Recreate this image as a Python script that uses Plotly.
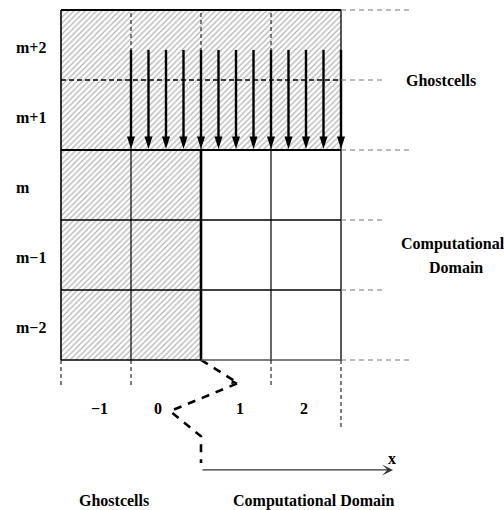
import plotly.graph_objects as go

# ---- data (cell units: one cell = 1) ----
col_labels = ["\u22121", "0", "1", "2"]
col_index = [-1, 0, 1, 2]
row_labels = ["m+2", "m+1", "m", "m\u22121", "m\u22122"]
row_index = [2, 1, 0, -1, -2]
ghost_cols = [-1, 0]          # columns that are ghost cells
ghost_rows = [2, 1]           # rows that are ghost cells
arrow_x = [-0.5, -0.25, 0.0, 0.25, 0.5, 0.75, 1.0, 1.25, 1.5, 1.75, 2.0, 2.25, 2.5]
zigzag_x = [0.5, 1.03, 0.06, 0.5, 0.5]
zigzag_y = [-2.5, -2.83, -3.23, -3.59, -3.97]

FONT = "'Liberation Serif', 'Times New Roman', serif"

xl = min(col_index) - 0.5
xr = max(col_index) + 0.5
yb = min(row_index) - 0.5
yt = max(row_index) + 0.5
xbnd = max(ghost_cols) + 0.5
ybnd = min(ghost_rows) - 0.5

fig = go.Figure()

# hatched ghost-cell region
fig.add_trace(go.Scatter(
    x=[xl, xr, xr, xbnd, xbnd, xl, xl],
    y=[yt, yt, ybnd, ybnd, yb, yb, yt],
    mode="lines", fill="toself", line=dict(width=0),
    fillcolor="white",
    fillpattern=dict(shape="/", size=4, solidity=0.3, fgcolor="#666666", bgcolor="white"),
    hoverinfo="skip", showlegend=False))

shapes = []
def seg(x0, y0, x1, y1, w=1.3, color="black", dash="solid"):
    shapes.append(dict(type="line", xref="x", yref="y", x0=x0, y0=y0, x1=x1, y1=y1,
                       line=dict(width=w, color=color, dash=dash), layer="above"))

# solid grid lines
seg(xl, yb, xl, yt, 1.6)
seg(xr, yb, xr, yt, 1.3)
for c in col_index[:-1]:
    xe = c + 0.5
    if xe != xbnd:
        seg(xe, yb, xe, ybnd, 1.2)
    seg(xe, ybnd, xe, yt, 1.0, dash="4px,3px")
seg(xbnd, yb, xbnd, ybnd, 2.6)
seg(xl, yt, xr, yt, 2.0)
seg(xl, ybnd, xr, ybnd, 1.8)
for r in row_index:
    ye = r - 0.5
    if ye in (ybnd, yb):
        continue
    if r - 0.5 > ybnd:
        seg(xl, ye, xr, ye, 1.5, dash="5px,3px")
    else:
        seg(xl, ye, xr, ye, 1.3)
seg(xl, yb, xbnd, yb, 1.5)
seg(xbnd, yb, xr, yb, 1.5, color="#555")

# grey dashed extensions on the right
for ye in [yt, ybnd, yb]:
    seg(xr, ye, xr + 1.014, ye, 1.2, color="#777", dash="5px,4px")
for ye in [1.5, -0.5, -1.5]:
    seg(xr, ye, xr + 0.586, ye, 1.2, color="#777", dash="5px,4px")

# dashed ticks below
for xe in [xl, -0.5, 1.5]:
    seg(xe, yb, xe, yb - 0.4, 1.0, dash="4px,3px")
seg(xr, yb, xr, yb - 1.0, 1.0, dash="4px,3px")

# downward arrows (shafts)
sx, sy = [], []
for a in arrow_x:
    sx += [a, a, None]
    sy += [1.93, 0.66, None]
fig.add_trace(go.Scatter(x=sx, y=sy, mode="lines", line=dict(color="black", width=2.4),
                         hoverinfo="skip", showlegend=False))
fig.add_trace(go.Scatter(x=arrow_x, y=[0.515] * len(arrow_x), mode="markers",
                         marker=dict(symbol="arrow", size=13, angle=180, color="black",
                                     line=dict(width=0)),
                         hoverinfo="skip", showlegend=False))

# zigzag dashed path
fig.add_trace(go.Scatter(x=zigzag_x, y=zigzag_y, mode="lines",
                         line=dict(color="black", width=2.6, dash="8px,7px"),
                         hoverinfo="skip", showlegend=False))
fig.add_trace(go.Scatter(x=[zigzag_x[1]], y=[zigzag_y[1]], mode="markers",
                         marker=dict(symbol="arrow", size=7, angle=100, color="black"),
                         hoverinfo="skip", showlegend=False))

ann = []
def txt(x, y, s, xanchor="center", size=16):
    ann.append(dict(x=x, y=y, xref="x", yref="y", text="<b>%s</b>" % s, showarrow=False,
                    xanchor=xanchor, yanchor="middle",
                    font=dict(family=FONT, size=size, color="black")))

for lab, r in zip(row_labels, row_index):
    txt(-2.171, r - 0.03, lab, xanchor="left")
label_x = [-0.95, -0.12, 1.05, 1.97]
for lab, lx in zip(col_labels, label_x):
    txt(lx, -3.186, lab)
txt(3.929, 1.5, "Ghostcells")
txt(4.10, -0.84, "Computational")
txt(4.14, -1.18, "Domain")
txt(-0.743, -4.514, "Ghostcells")
txt(2.1, -4.514, "Computational Domain")
txt(3.229, -3.9, "x")

# x axis arrow
ann.append(dict(x=3.243, y=-4.071, ax=0.5, ay=-4.071, xref="x", yref="y", axref="x", ayref="y",
                text="", showarrow=True, arrowhead=3, arrowsize=1.4, arrowwidth=1.3,
                arrowcolor="#333"))

fig.update_layout(
    width=504, height=510, margin=dict(l=0, r=0, t=0, b=0),
    paper_bgcolor="white", plot_bgcolor="white", showlegend=False,
    font=dict(family=FONT),
    xaxis=dict(range=[-2.3714, 4.8286], visible=False, fixedrange=True),
    yaxis=dict(range=[-4.6429, 2.6429], visible=False, fixedrange=True),
    shapes=shapes, annotations=ann)

fig.write_html("out.html")
